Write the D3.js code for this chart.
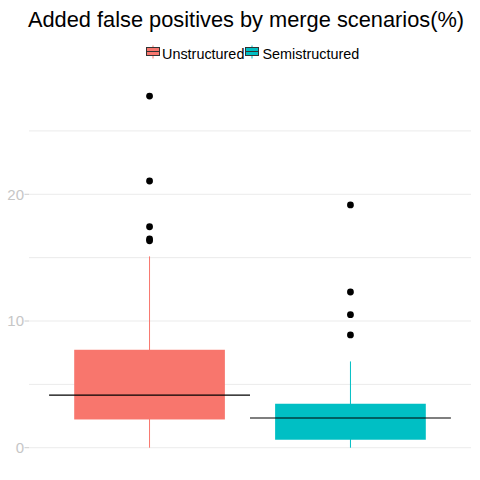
<!DOCTYPE html>
<html>
<head>
<meta charset="utf-8">
<script src="https://cdn.jsdelivr.net/npm/d3@7"></script>
<style>
  html, body { margin: 0; padding: 0; background: #fff; }
  text { font-family: "Liberation Sans", Arial, sans-serif; }
</style>
</head>
<body>
<svg id="chart" width="480" height="480"></svg>
<script>
const categories = ["Unstructured", "Semistructured"];
const colors = ["#F8766D", "#00BFC4"];
const whiskerLow = [0, 0];
const q1 = [2.23, 0.63];
const midLine = [4.15, 2.34];
const q3 = [7.73, 3.47];
const whiskerHigh = [15.1, 6.81];
const outliers = [
  [16.33, 16.47, 17.44, 21.05, 27.75],
  [8.9, 10.5, 12.29, 19.16]
];
const yTicks = [0, 10, 20];
const yGrid = [0, 5, 10, 15, 20, 25];
const title = "Added false positives by merge scenarios(%)";

const svg = d3.select("#chart");
const panel = { left: 29, right: 471, top: 78.5, bottom: 465.3 };

const allVals = outliers.flat().concat(whiskerLow, whiskerHigh);
const yMin = d3.min(allVals), yMax = d3.max(allVals);
const pad = (yMax - yMin) * 0.05;
const y = d3.scaleLinear().domain([yMin - pad, yMax + pad]).range([panel.bottom, panel.top]);

// discrete x with ggplot-like expansion (0.6 units each side)
const xc = d3.scaleLinear().domain([0.4, categories.length + 0.6]).range([panel.left, panel.right]);
const unit = xc(2) - xc(1);

// grid
svg.append("g").selectAll("line").data(yGrid).join("line")
  .attr("x1", panel.left).attr("x2", panel.right)
  .attr("y1", d => y(d)).attr("y2", d => y(d))
  .attr("stroke", "#ebebeb").attr("stroke-width", 1);

// y axis labels + ticks
const ax = svg.append("g");
ax.selectAll("line").data(yTicks).join("line")
  .attr("x1", panel.left - 4.5).attr("x2", panel.left)
  .attr("y1", d => y(d)).attr("y2", d => y(d))
  .attr("stroke", "#cccccc").attr("stroke-width", 1);
ax.selectAll("text").data(yTicks).join("text")
  .attr("x", panel.left - 5).attr("y", d => y(d)).attr("dy", "0.36em")
  .attr("text-anchor", "end").attr("font-size", 15).attr("fill", "#c6c6c6")
  .text(d => d);

// boxes
categories.forEach((c, i) => {
  const cx = xc(i + 1);
  const g = svg.append("g");
  g.append("line").attr("x1", cx).attr("x2", cx)
    .attr("y1", y(whiskerLow[i])).attr("y2", y(whiskerHigh[i]))
    .attr("stroke", colors[i]).attr("stroke-width", 1);
  g.append("rect").attr("x", cx - unit * 0.375).attr("width", unit * 0.75)
    .attr("y", y(q3[i])).attr("height", y(q1[i]) - y(q3[i]))
    .attr("fill", colors[i]);
  g.selectAll("circle").data(outliers[i]).join("circle")
    .attr("cx", cx).attr("cy", d => y(d)).attr("r", 3.4).attr("fill", "#000");
  g.append("line").attr("x1", cx - unit * 0.5).attr("x2", cx + unit * 0.5)
    .attr("y1", y(midLine[i])).attr("y2", y(midLine[i]))
    .attr("stroke", "#000").attr("stroke-width", 1.1);
});

// title
svg.append("text").attr("x", 246).attr("y", 26.5).attr("text-anchor", "middle")
  .attr("font-size", 21.8).attr("fill", "#000").text(title);

// legend
const keyX = [146, 245];
const textX = [162, 262.5];
categories.forEach((c, i) => {
  const g = svg.append("g");
  g.append("line").attr("x1", keyX[i] + 7).attr("x2", keyX[i] + 7)
    .attr("y1", 45.5).attr("y2", 58.5).attr("stroke", colors[i]).attr("stroke-width", 1);
  g.append("rect").attr("x", keyX[i] + 0.5).attr("y", 47.5).attr("width", 13).attr("height", 8)
    .attr("fill", colors[i]).attr("stroke", "#333").attr("stroke-width", 1);
  g.append("line").attr("x1", keyX[i] + 0.5).attr("x2", keyX[i] + 13.5)
    .attr("y1", 51.5).attr("y2", 51.5).attr("stroke", "#333").attr("stroke-width", 1);
  g.append("text").attr("x", textX[i]).attr("y", 58.5).attr("font-size", 14.4)
    .attr("fill", "#000").text(c);
});
</script>
</body>
</html>
